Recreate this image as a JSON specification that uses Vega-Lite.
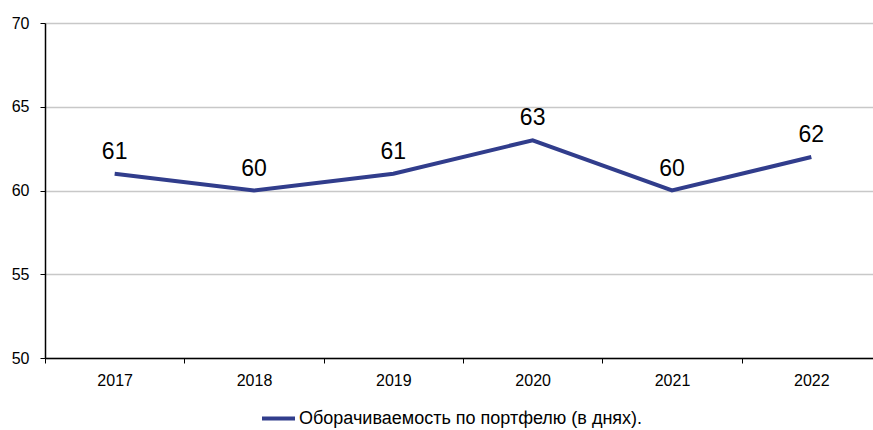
{
  "$schema": "https://vega.github.io/schema/vega-lite/v6.json",
  "autosize": "none",
  "width": 836,
  "height": 335,
  "padding": {"left": 45, "top": 23, "right": 0, "bottom": 72},
  "background": "white",
  "config": {
    "view": {"stroke": null},
    "font": "Liberation Sans",
    "axis": {"labelFont": "Liberation Sans", "labelColor": "#000000"}
  },
  "data": {
    "values": [
      {"year": "2017", "value": 61, "series": "Оборачиваемость по портфелю (в днях)."},
      {"year": "2018", "value": 60, "series": "Оборачиваемость по портфелю (в днях)."},
      {"year": "2019", "value": 61, "series": "Оборачиваемость по портфелю (в днях)."},
      {"year": "2020", "value": 63, "series": "Оборачиваемость по портфелю (в днях)."},
      {"year": "2021", "value": 60, "series": "Оборачиваемость по портфелю (в днях)."},
      {"year": "2022", "value": 62, "series": "Оборачиваемость по портфелю (в днях)."}
    ]
  },
  "encoding": {
    "x": {
      "field": "year",
      "type": "ordinal",
      "bandPosition": 0.5,
      "scale": {"type": "band", "paddingInner": 0, "paddingOuter": 0},
      "axis": {
        "title": null,
        "labelAngle": 0,
        "labelFontSize": 16,
        "labelPadding": 9,
        "tickBand": "extent",
        "tickSize": 5,
        "tickColor": "#000000",
        "domainColor": "#000000",
        "domainWidth": 1.5,
        "grid": false
      }
    },
    "y": {
      "field": "value",
      "type": "quantitative",
      "scale": {"domain": [50, 70], "nice": false, "zero": false},
      "axis": {
        "title": null,
        "values": [50, 55, 60, 65, 70],
        "labelFontSize": 16,
        "labelPadding": 11,
        "tickSize": 5,
        "tickColor": "#000000",
        "domainColor": "#000000",
        "domainWidth": 1.5,
        "grid": true,
        "gridColor": "#c8c8c8",
        "gridWidth": 1.5
      }
    }
  },
  "layer": [
    {
      "mark": {"type": "line", "strokeWidth": 4},
      "encoding": {
        "color": {
          "field": "series",
          "type": "nominal",
          "scale": {"range": ["#313d8c"]},
          "legend": {
            "title": null,
            "orient": "none",
            "legendX": 215,
            "legendY": 377,
            "symbolType": "stroke",
            "symbolSize": 1089,
            "symbolStrokeWidth": 4,
            "labelFontSize": 18,
            "labelOffset": 2,
            "labelLimit": 600,
            "labelColor": "#000000"
          }
        }
      }
    },
    {
      "mark": {"type": "text", "fontSize": 23, "dy": -15, "baseline": "alphabetic", "color": "#000000"},
      "encoding": {
        "text": {"field": "value", "type": "quantitative"}
      }
    }
  ]
}
